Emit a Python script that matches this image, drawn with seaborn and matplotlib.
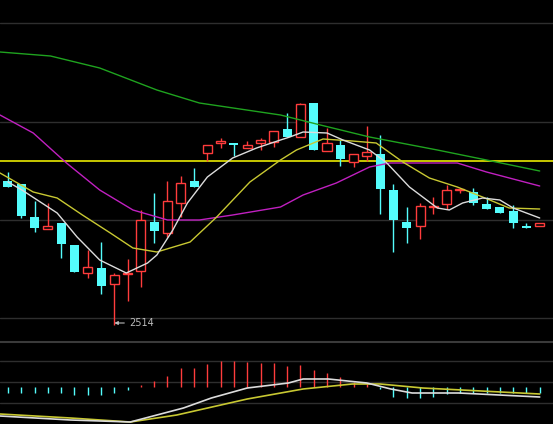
import numpy as np
import pandas as pd
import matplotlib
matplotlib.use("Agg")
import matplotlib.pyplot as plt
import seaborn as sns

opens  = [2802,2796,2730,2706,2718,2674,2618,2628,2596,2616,2622,2720,2698,2758,2802,2858,2878,2878,2868,2878,2880,2906,2890,2958,2862,2874,2840,2852,2856,2784,2720,2712,2750,2756,2784,2780,2756,2750,2742,2712,2712]
closes = [2790,2732,2708,2712,2676,2620,2630,2592,2614,2618,2724,2702,2762,2798,2790,2874,2882,2874,2874,2884,2902,2890,2956,2864,2878,2846,2856,2860,2786,2724,2708,2752,2752,2784,2786,2758,2746,2738,2718,2708,2718]
highs  = [2820,2796,2762,2758,2718,2674,2664,2680,2618,2646,2744,2778,2802,2812,2828,2874,2888,2878,2882,2888,2902,2938,2958,2958,2908,2884,2856,2912,2894,2796,2750,2758,2770,2794,2786,2788,2770,2750,2754,2718,2718]
lows   = [2790,2728,2700,2706,2648,2620,2608,2576,2514,2562,2590,2678,2690,2730,2790,2842,2868,2852,2868,2864,2870,2890,2890,2864,2862,2832,2830,2842,2736,2660,2678,2686,2736,2746,2778,2754,2746,2738,2708,2708,2712]

ma5_x = [0,1.05,3.7,5.2,6.9,8.9,10.5,11.2,12.4,13.5,15,16.9,18.7,20.5,21.2,22.2,24,25.2,27.2,28.5,30.2,32.3,33.2,34.2,35.7,37,38,40]
ma5_y = [2800,2784,2738,2690,2644,2618,2638,2654,2704,2758,2810,2848,2868,2884,2890,2900,2898,2884,2864,2838,2790,2748,2744,2758,2768,2764,2748,2728]
ma10_x = [-0.6,1.9,3.7,5.6,7.7,9.4,11.2,13.7,15.7,18.2,20.5,21.7,23.7,25.9,27.7,29.7,31.7,33.8,35.7,37.7,40]
ma10_y = [2818,2780,2768,2734,2698,2668,2660,2680,2730,2800,2844,2864,2886,2882,2878,2840,2808,2790,2770,2748,2746]
ma20_x = [-0.6,1.9,4.4,6.9,9.4,12,14.4,16.9,20.5,22.2,24.7,27.2,28.7,33.8,36,40]
ma20_y = [2934,2898,2838,2784,2744,2724,2724,2734,2750,2774,2798,2830,2838,2838,2820,2792]
ma60_x = [-0.6,3.2,6.9,11.2,14.4,20.5,23.5,27.2,32.3,36,40]
ma60_y = [3060,3052,3028,2984,2958,2934,2914,2890,2864,2844,2822]
ref_level = 2842
low_label = "2514"

macd_hist = [-6,-6,-6,-6,-6,-8,-8,-8,-6,-3,2,6,11,19,19,23,26,26,25,24,24,21,22,17,14,10,5,4,-2,-10,-11,-11,-10,-7,-6,-6,-6,-6,-6,-6,-6]
dif_x = [-0.6,4.7,9.2,13.2,15.3,18,21.1,22.2,24.1,27,28.8,30.4,33.9,40]
dif_y = [-29,-33,-35,-21,-11,-1,4,8,8,4,-2,-6,-6,-10]
dea_x = [-0.6,4.7,9.2,12.7,18,22.2,25.9,28,31.2,40]
dea_y = [-27,-31,-35,-28,-12,-2,3,3,-1,-7]

sns.set_style("dark")
plt.rcParams['font.family'] = ['DejaVu Sans']
fig = plt.figure(figsize=(5.53, 4.24), dpi=100, facecolor="black")
ax = fig.add_axes([0, 83/424, 1, 341/424])
ax2 = fig.add_axes([0, 0, 1, 82/424])
for a in (ax, ax2):
    a.set_facecolor("black")
    for s in a.spines.values():
        s.set_visible(False)
    a.set_xticks([]); a.set_yticks([])
    a.set_xlim(-0.6, 41.0)

CYAN = "#54fcfc"; RED = "#ff3c3c"
grid = "#2e2e2e"
for g in [3118, 2920, 2724, 2528]:
    ax.axhline(g, color=grid, lw=1)
ax.axhline(ref_level, color="#d8d800", lw=1.3, zorder=2)

idx = np.arange(len(opens))
w = 0.68
for i in idx:
    o, c, h, l = opens[i], closes[i], highs[i], lows[i]
    up = c >= o
    col = RED if up else CYAN
    ax.vlines(i, l, h, color=col, lw=1, zorder=3)
    bot = min(o, c); ht = max(abs(c - o), 1.5)
    if up:
        ax.bar(i, ht, bottom=bot, width=w, facecolor="black", edgecolor=col, lw=1, zorder=4)
    else:
        ax.bar(i, ht, bottom=bot, width=w, color=col, lw=0, zorder=4)

for xs, ys, col in [(ma60_x, ma60_y, "#1fa31f"), (ma20_x, ma20_y, "#c020c0"),
                    (ma10_x, ma10_y, "#c8c832"), (ma5_x, ma5_y, "#dcdcdc")]:
    sns.lineplot(x=xs, y=ys, ax=ax, color=col, lw=1.0, zorder=5, sort=False)
ax.set_ylim(2482, 3164)
imin = int(np.argmin(lows))
ax.annotate(low_label, xy=(imin, lows[imin] + 4), xytext=(imin + 1.1, lows[imin] + 4),
            color="#bbbbbb", fontsize=7, va="center",
            arrowprops=dict(arrowstyle="-|>", color="#bbbbbb", lw=0.8, mutation_scale=5,
                            shrinkA=1, shrinkB=0))

fig.add_artist(plt.Line2D([0, 1], [82.5/424, 82.5/424], color="#3a3a3a", lw=1.5))
for g in [26, 5, -16]:
    ax2.axhline(g, color=grid, lw=1)
for i in idx:
    v = macd_hist[i]
    ax2.vlines(i, 0, v, color=RED if v > 0 else CYAN, lw=1)
sns.lineplot(x=dea_x, y=dea_y, ax=ax2, color="#c8c832", lw=1.2, sort=False)
sns.lineplot(x=dif_x, y=dif_y, ax=ax2, color="#dcdcdc", lw=1.2, sort=False)
ax2.set_ylim(-37, 45)
for a in (ax, ax2):
    a.set_xlabel(""); a.set_ylabel("")
fig.savefig("out.png", dpi=100, facecolor="black")
